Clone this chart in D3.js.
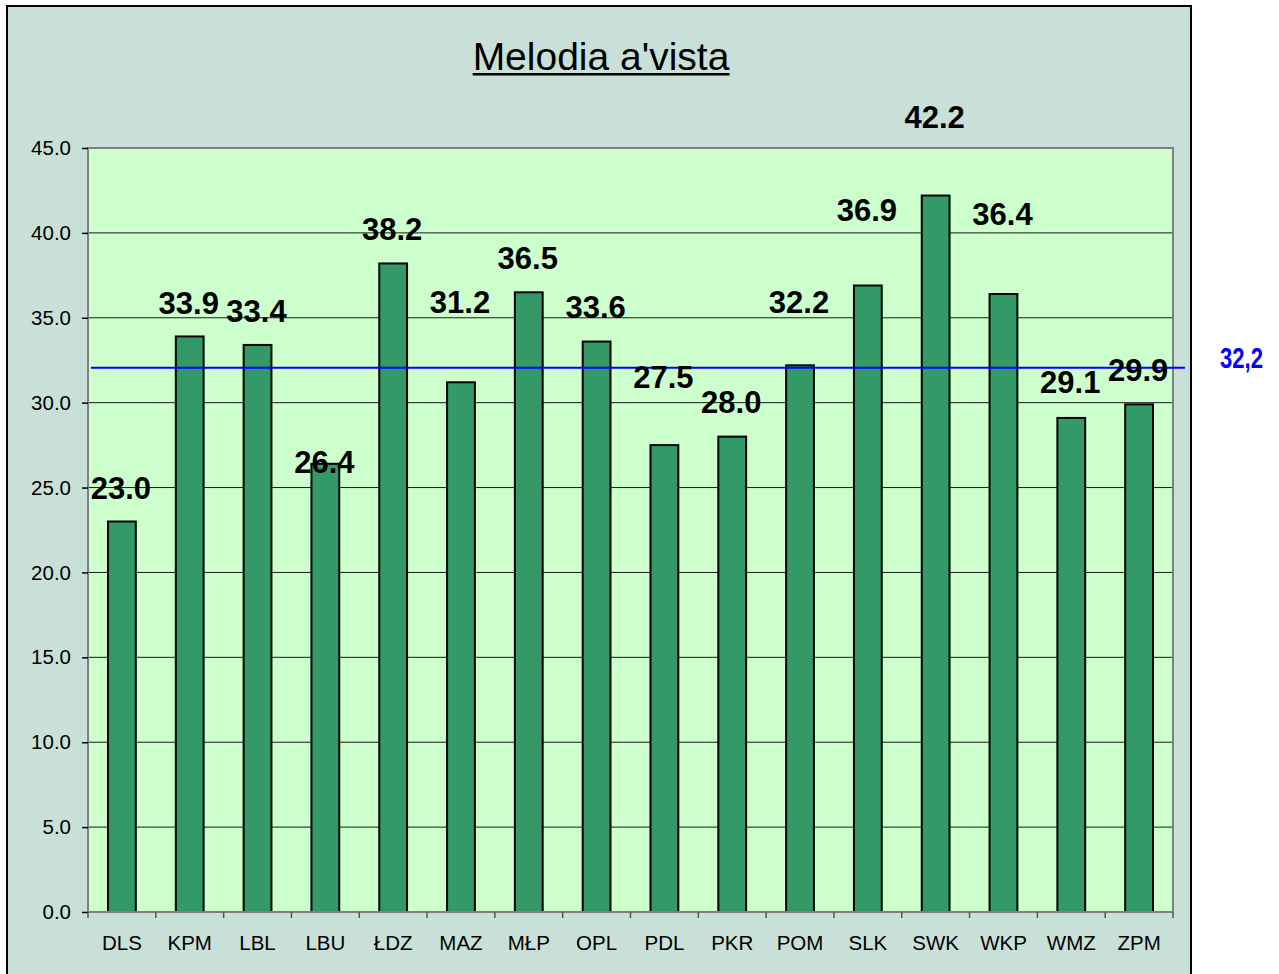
<!DOCTYPE html>
<html>
<head>
<meta charset="utf-8">
<script src="https://cdn.jsdelivr.net/npm/d3@7"></script>
<style>
  html, body { margin: 0; padding: 0; background: #ffffff; }
  svg { display: block; font-family: Arial, "Liberation Sans", sans-serif; }
</style>
</head>
<body>
<script>
// data
const regions = ["DLS", "KPM", "LBL", "LBU", "ŁDZ", "MAZ", "MŁP", "OPL", "PDL", "PKR", "POM", "SLK", "SWK", "WKP", "WMZ", "ZPM"];
const scores = [23.0, 33.9, 33.4, 26.4, 38.2, 31.2, 36.5, 33.6, 27.5, 28.0, 32.2, 36.9, 42.2, 36.4, 29.1, 29.9];
const yTicks = [0, 5, 10, 15, 20, 25, 30, 35, 40, 45];
const avgLineValue = 32.05;
const avgLabel = "32,2";
const title = "Melodia a'vista";

// label nudges (px above bar top)
const labelLift = [23, 22, 23, -9, 23, 69, 23, 24, 57, 24, 52, 65, 68, 69, 25, 23];

const width = 1279, height = 974,
      plot = { left: 88, right: 1173, top: 148, bottom: 912 };

const svg = d3.select("body")
              .append("svg")
              .attr("width", width)
              .attr("height", height);

// outer chart frame
svg.append("rect")
   .attr("x", 7).attr("y", 6)
   .attr("width", 1184).attr("height", 990)
   .attr("fill", "#c9e0d8")
   .attr("stroke", "#000")
   .attr("stroke-width", 2);

const x = d3.scaleBand()
            .domain(regions)
            .range([plot.left, plot.right])
            .paddingInner(0.59)
            .paddingOuter(0.295),
      y = d3.scaleLinear()
            .domain([0, 45])
            .range([plot.bottom, plot.top]);

// plot area
svg.append("rect")
   .attr("x", plot.left).attr("y", plot.top)
   .attr("width", plot.right - plot.left)
   .attr("height", plot.bottom - plot.top)
   .attr("fill", "#ccffcc");

// gridlines
svg.selectAll("line.grid")
   .data(yTicks.filter(d => d > 0 && d < 45))
   .enter()
   .append("line")
   .attr("class", "grid")
   .attr("x1", plot.left).attr("x2", plot.right)
   .attr("y1", d => y(d)).attr("y2", d => y(d))
   .attr("stroke", "#1a1a1a")
   .attr("stroke-width", 1);

// plot border (grey)
svg.append("path")
   .attr("d", `M${plot.left},${plot.bottom}V${plot.top}H${plot.right}V${plot.bottom}`)
   .attr("fill", "none")
   .attr("stroke", "#808080")
   .attr("stroke-width", 2);

// bars
svg.selectAll("rect.bar")
   .data(scores)
   .enter()
   .append("rect")
   .attr("class", "bar")
   .attr("x", (d, i) => x(regions[i]))
   .attr("y", d => y(d))
   .attr("width", x.bandwidth())
   .attr("height", d => y(0) - y(d))
   .attr("fill", "#339966")
   .attr("stroke", "#000")
   .attr("stroke-width", 2);

// average line
svg.append("line")
   .attr("x1", plot.left + 3).attr("x2", 1185)
   .attr("y1", y(avgLineValue)).attr("y2", y(avgLineValue))
   .attr("stroke", "#0000ff")
   .attr("stroke-width", 2);

svg.append("text")
   .attr("x", 1220)
   .attr("y", y(avgLineValue))
   .attr("textLength", 43)
   .attr("lengthAdjust", "spacingAndGlyphs")
   .attr("font-size", 30)
   .attr("font-weight", "bold")
   .attr("fill", "#0000ff")
   .text(avgLabel);

// y axis
const yAxis = svg.append("g")
                 .attr("transform", `translate(${plot.left},0)`)
                 .call(d3.axisLeft(y)
                         .tickValues(yTicks)
                         .tickFormat(d3.format(".1f"))
                         .tickSize(6)
                         .tickPadding(11));
yAxis.select(".domain").remove();
yAxis.selectAll(".tick line").attr("stroke", "#000").attr("stroke-width", 1.5);
yAxis.selectAll("text")
     .attr("font-size", 20.5)
     .attr("font-family", "Arial, 'Liberation Sans', sans-serif")
     .attr("fill", "#000");

// x axis
const xAxis = svg.append("g")
                 .attr("transform", `translate(0,${plot.bottom})`)
                 .call(d3.axisBottom(x).tickSize(0).tickPadding(23));
xAxis.select(".domain").remove();
xAxis.selectAll("text")
     .attr("font-size", 20.5)
     .attr("font-family", "Arial, 'Liberation Sans', sans-serif")
     .attr("fill", "#000");

svg.append("line")
   .attr("x1", plot.left).attr("x2", plot.right)
   .attr("y1", plot.bottom).attr("y2", plot.bottom)
   .attr("stroke", "#808080")
   .attr("stroke-width", 2);

svg.selectAll("line.xtick")
   .data(d3.range(regions.length + 1))
   .enter()
   .append("line")
   .attr("class", "xtick")
   .attr("x1", i => plot.left + i * x.step())
   .attr("x2", i => plot.left + i * x.step())
   .attr("y1", plot.bottom)
   .attr("y2", plot.bottom + 6)
   .attr("stroke", "#555")
   .attr("stroke-width", 1.5);

// value labels
svg.selectAll("text.value")
   .data(scores)
   .enter()
   .append("text")
   .attr("class", "value")
   .attr("x", (d, i) => x(regions[i]) + x.bandwidth() / 2 - 1)
   .attr("y", (d, i) => y(d) - labelLift[i])
   .attr("text-anchor", "middle")
   .attr("font-size", 31)
   .attr("font-weight", "bold")
   .attr("fill", "#000")
   .text(d => d.toFixed(1));

// title
const t = svg.append("text")
             .attr("x", 601)
             .attr("y", 70)
             .attr("text-anchor", "middle")
             .attr("font-size", 39)
             .attr("fill", "#000")
             .text(title);
const tb = t.node().getBBox();
svg.append("rect")
   .attr("x", tb.x).attr("y", 73)
   .attr("width", tb.width).attr("height", 2.5)
   .attr("fill", "#000");
</script>
</body>
</html>
